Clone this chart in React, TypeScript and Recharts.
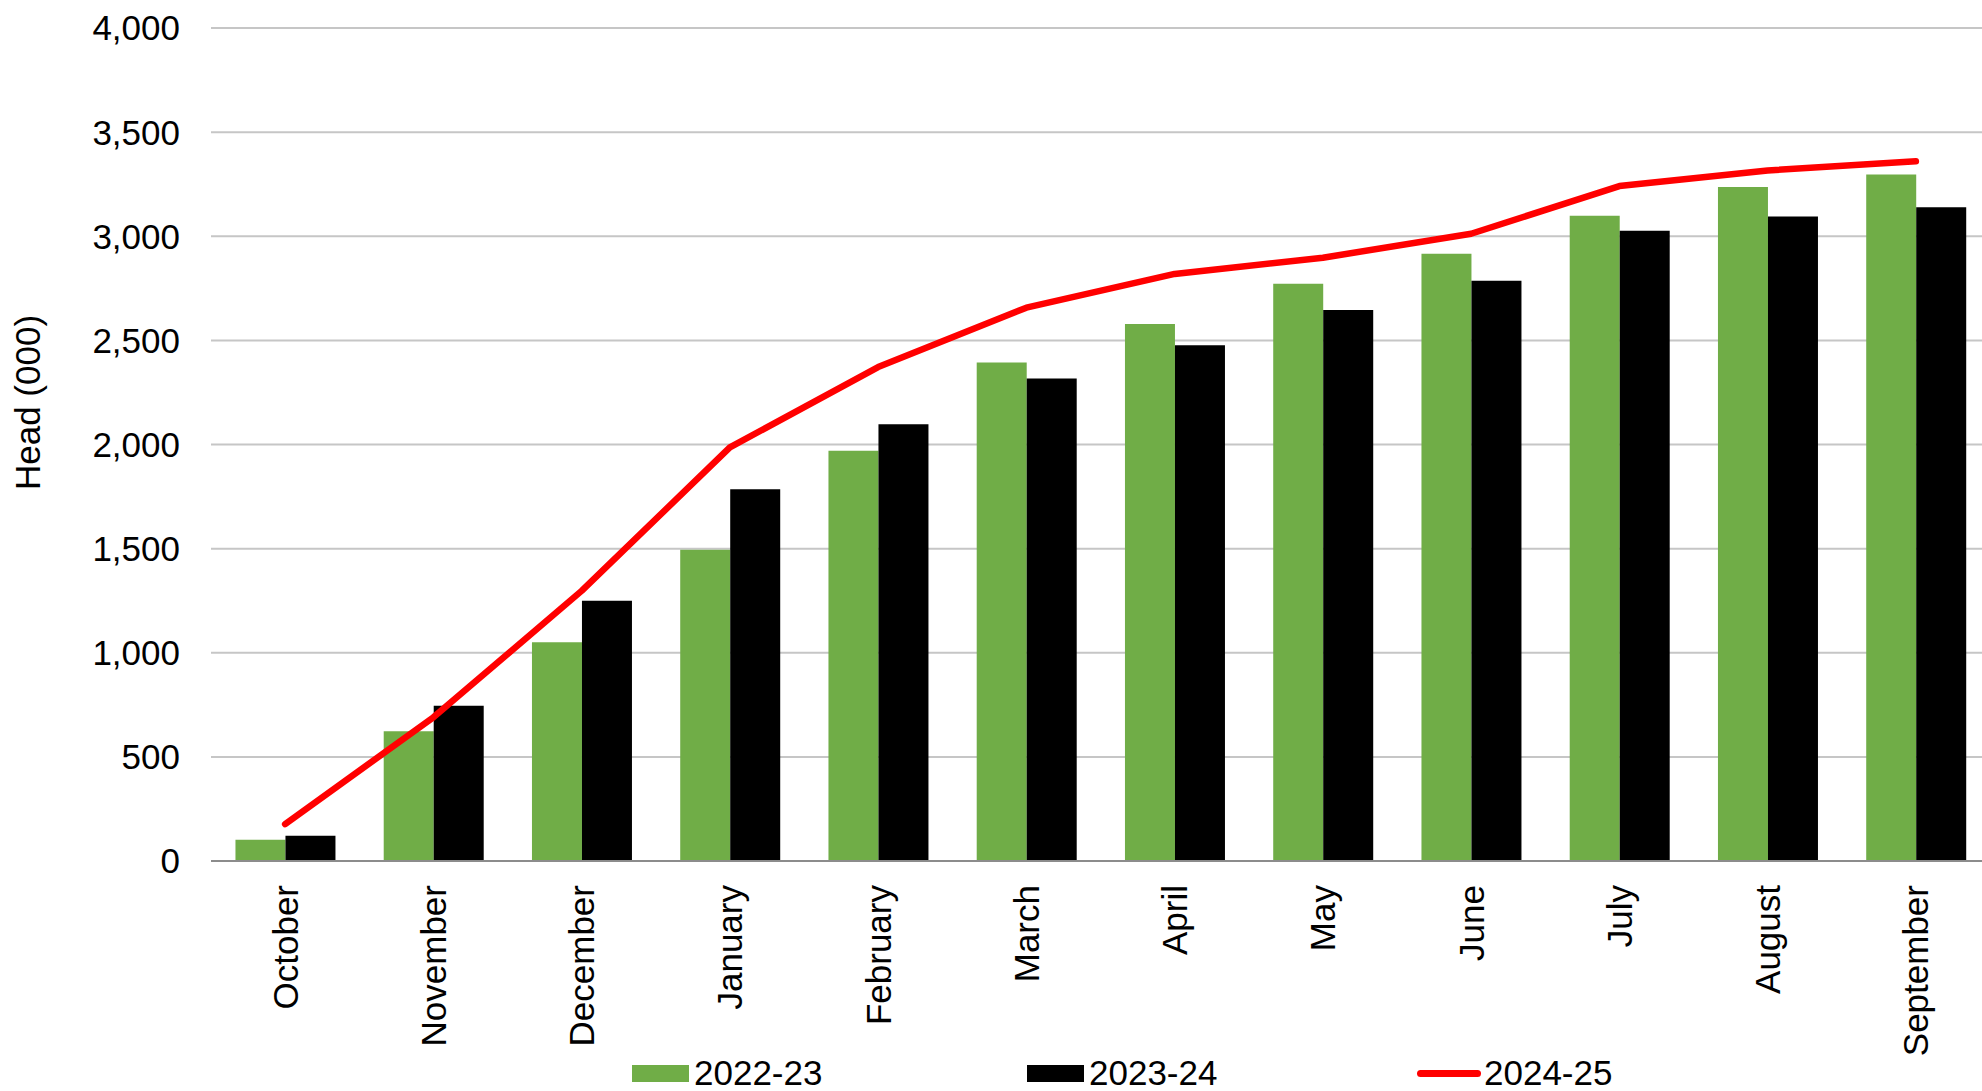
import React from 'react';
import { ComposedChart, Bar, Line, XAxis, YAxis, CartesianGrid, Legend } from 'recharts';

const months = ['October', 'November', 'December', 'January', 'February', 'March', 'April', 'May', 'June', 'July', 'August', 'September'];
const head2022 = [102, 623, 1051, 1495, 1970, 2394, 2579, 2772, 2916, 3098, 3236, 3297];
const head2023 = [121, 745, 1250, 1785, 2097, 2317, 2477, 2646, 2786, 3026, 3095, 3139];
const head2024 = [177, 690, 1297, 1986, 2372, 2657, 2819, 2897, 3012, 3241, 3316, 3360];
const yTicks = [0, 500, 1000, 1500, 2000, 2500, 3000, 3500, 4000];

const seriesNames = ['2022-23', '2023-24', '2024-25'];
const GREEN = '#70AD47';
const BLACK = '#000000';
const RED = '#FF0000';
const FONT = '"Liberation Sans", Arial, sans-serif';

const data = months.map((m, i) => ({
  month: m,
  s1: head2022[i],
  s2: head2023[i],
  s3: head2024[i],
}));

const MonthTick = (props: any) => {
  const { x, y, payload } = props;
  return (
    <text
      x={x}
      y={y}
      dy="0.36em"
      transform={`rotate(-90 ${x} ${y})`}
      textAnchor="end"
      fill="#000"
      fontSize={35}
      fontFamily={FONT}
    >
      {payload.value}
    </text>
  );
};

const HeadLabel = (props: any) => {
  const vb = props.viewBox || { x: 0, y: 28, width: 211, height: 833 };
  const x = vb.x + 40;
  const y = vb.y + vb.height / 2 - 42;
  return (
    <text x={x} y={y} transform={`rotate(-90 ${x} ${y})`} textAnchor="middle" fill="#000" fontSize={35} fontFamily={FONT}>
      Head (000)
    </text>
  );
};

const LegendRow = () => {
  const textStyle: React.CSSProperties = {
    position: 'absolute',
    top: 0,
    fontSize: 35,
    lineHeight: '35px',
    fontFamily: FONT,
    color: '#000',
    whiteSpace: 'nowrap',
  };
  return (
    <div style={{ position: 'relative', width: 1982, height: 40 }}>
      <div style={{ position: 'absolute', left: 632, top: 10, width: 57, height: 17, background: GREEN }} />
      <span style={{ ...textStyle, left: 694 }}>{seriesNames[0]}</span>
      <div style={{ position: 'absolute', left: 1027, top: 10, width: 57, height: 17, background: BLACK }} />
      <span style={{ ...textStyle, left: 1089 }}>{seriesNames[1]}</span>
      <div style={{ position: 'absolute', left: 1417, top: 15, width: 64, height: 7, borderRadius: 4, background: RED }} />
      <span style={{ ...textStyle, left: 1484 }}>{seriesNames[2]}</span>
    </div>
  );
};

export default function App() {
  return (
    <div style={{ position: 'absolute', left: 0, top: 0, width: 1982, height: 1091, background: '#fff', overflow: 'hidden' }}>
      <ComposedChart
        width={1982}
        height={1091}
        data={data}
        margin={{ top: 28, right: -8, left: 0, bottom: 0 }}
        barCategoryGap="16.5%"
        barGap={0}
        style={{ overflow: 'hidden' }}
      >
        <CartesianGrid vertical={false} stroke="#c6c6c6" strokeWidth={2} />
        <XAxis
          dataKey="month"
          height={230}
          interval={0}
          tick={<MonthTick />}
          tickLine={false}
          tickSize={0}
          tickMargin={24}
          axisLine={{ stroke: '#8c8c8c', strokeWidth: 2 }}
        />
        <YAxis
          width={211}
          domain={[0, 4000]}
          ticks={yTicks}
          interval={0}
          axisLine={false}
          tickLine={false}
          tickSize={0}
          tickMargin={31}
          tick={{ fill: '#000', fontSize: 35, fontFamily: FONT }}
          tickFormatter={(v: number) => v.toLocaleString('en-US')}
          label={<HeadLabel />}
        />
        <Legend
          layout="horizontal"
          verticalAlign="middle"
          align="center"
          content={<LegendRow />}
          wrapperStyle={{ position: 'absolute', left: 0, top: 1055, width: 1982, height: 40 }}
        />
        <Bar dataKey="s1" name={seriesNames[0]} fill={GREEN} isAnimationActive={false} />
        <Bar dataKey="s2" name={seriesNames[1]} fill={BLACK} isAnimationActive={false} />
        <Line
          type="linear"
          dataKey="s3"
          name={seriesNames[2]}
          stroke={RED}
          strokeWidth={6.5}
          strokeLinecap="round"
          strokeLinejoin="round"
          dot={false}
          activeDot={false}
          isAnimationActive={false}
        />
      </ComposedChart>
    </div>
  );
}
